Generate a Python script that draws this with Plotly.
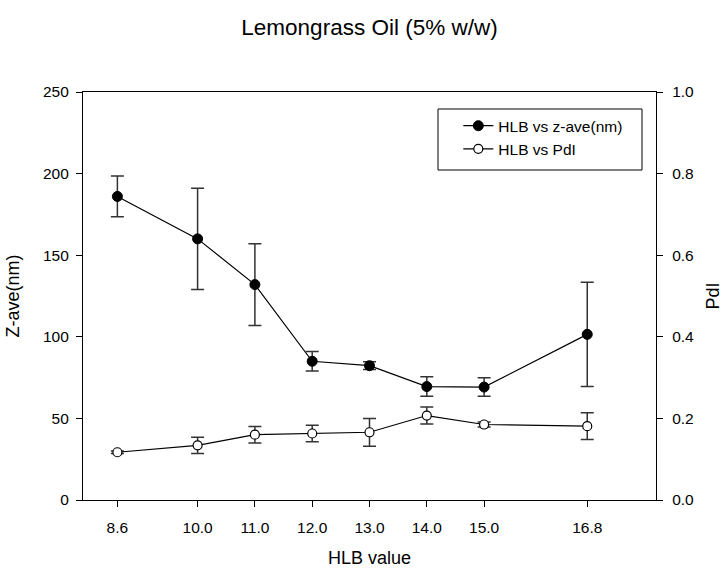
import plotly.graph_objects as go

# HLB values of the surfactant blends
hlb = [8.6, 10.0, 11.0, 12.0, 13.0, 14.0, 15.0, 16.8]
hlb_labels = ["8.6", "10.0", "11.0", "12.0", "13.0", "14.0", "15.0", "16.8"]

# Mean droplet size (nm) and standard deviation
z_ave = [186.0, 160.0, 132.0, 85.0, 82.3, 69.5, 69.2, 101.5]
z_ave_sd = [12.5, 31.0, 25.0, 6.0, 2.4, 6.0, 5.7, 32.0]

# Polydispersity index and standard deviation
pdi = [0.117, 0.134, 0.160, 0.163, 0.166, 0.207, 0.185, 0.181]
pdi_sd = [0.003, 0.020, 0.020, 0.020, 0.034, 0.021, 0.006, 0.033]

FONT = "Liberation Sans, Arial, sans-serif"

fig = go.Figure()

fig.add_trace(go.Scatter(
    x=hlb, y=z_ave, mode="lines+markers", name="HLB vs z-ave(nm)",
    line=dict(color="black", width=1.2),
    marker=dict(symbol="circle", size=10, color="black",
                line=dict(color="black", width=1)),
    error_y=dict(type="data", array=z_ave_sd, visible=True,
                 color="#333333", thickness=1.5, width=6.5),
    yaxis="y",
))

fig.add_trace(go.Scatter(
    x=hlb, y=pdi, mode="lines+markers", name="HLB vs PdI",
    line=dict(color="black", width=1.2),
    marker=dict(symbol="circle", size=9, color="white",
                line=dict(color="black", width=1.2)),
    error_y=dict(type="data", array=pdi_sd, visible=True,
                 color="#333333", thickness=1.5, width=6.5),
    yaxis="y2",
))

axis_common = dict(
    showgrid=False, zeroline=False, showline=True, linecolor="black",
    linewidth=1.2, ticks="outside", ticklen=6, tickwidth=1.2,
    tickcolor="black", tickfont=dict(family=FONT, size=15.5, color="black"),
    automargin=False,
)

fig.update_layout(
    width=723, height=569,
    margin=dict(l=83, r=67, t=92, b=69),
    paper_bgcolor="white", plot_bgcolor="white",
    font=dict(family=FONT, color="black"),
    title=dict(text="Lemongrass Oil (5% w/w)", x=0.5, xref="paper",
               xanchor="center", y=1 - 27 / 569, yanchor="middle",
               yref="container",
               font=dict(family=FONT, size=22.5, color="black")),
    xaxis=dict(
        range=[8.0, 18.0], tickvals=hlb, ticktext=hlb_labels,
        mirror=True, ticklabelstandoff=7,
        title=dict(text="HLB value", standoff=16,
                   font=dict(family=FONT, size=18, color="black")),
        **axis_common,
    ),
    yaxis=dict(
        range=[0, 250], dtick=50, ticklabelstandoff=4,
        title=dict(text="Z-ave(nm)", standoff=18,
                   font=dict(family=FONT, size=18, color="black")),
        **axis_common,
    ),
    yaxis2=dict(
        range=[0, 1.0], dtick=0.2, tickformat=".1f",
        overlaying="y", side="right", ticklabelstandoff=6,
        title=dict(text="PdI", standoff=22,
                   font=dict(family=FONT, size=18, color="black")),
        **axis_common,
    ),
    showlegend=True,
    legend=dict(
        x=0.655, y=0.958, xanchor="left", yanchor="top",
        bgcolor="rgba(0,0,0,0)", borderwidth=0,
        font=dict(family=FONT, size=15.5, color="black"),
        itemwidth=30, tracegroupgap=0,
    ),
    shapes=[dict(
        type="rect", xref="paper", yref="paper",
        x0=(438 - 83) / 573, x1=(642 - 83) / 573,
        y0=1 - (170 - 92) / 408, y1=1 - (109 - 92) / 408,
        line=dict(color="black", width=1), fillcolor="rgba(0,0,0,0)",
        layer="above",
    )],
)

fig.write_html("out.html")
